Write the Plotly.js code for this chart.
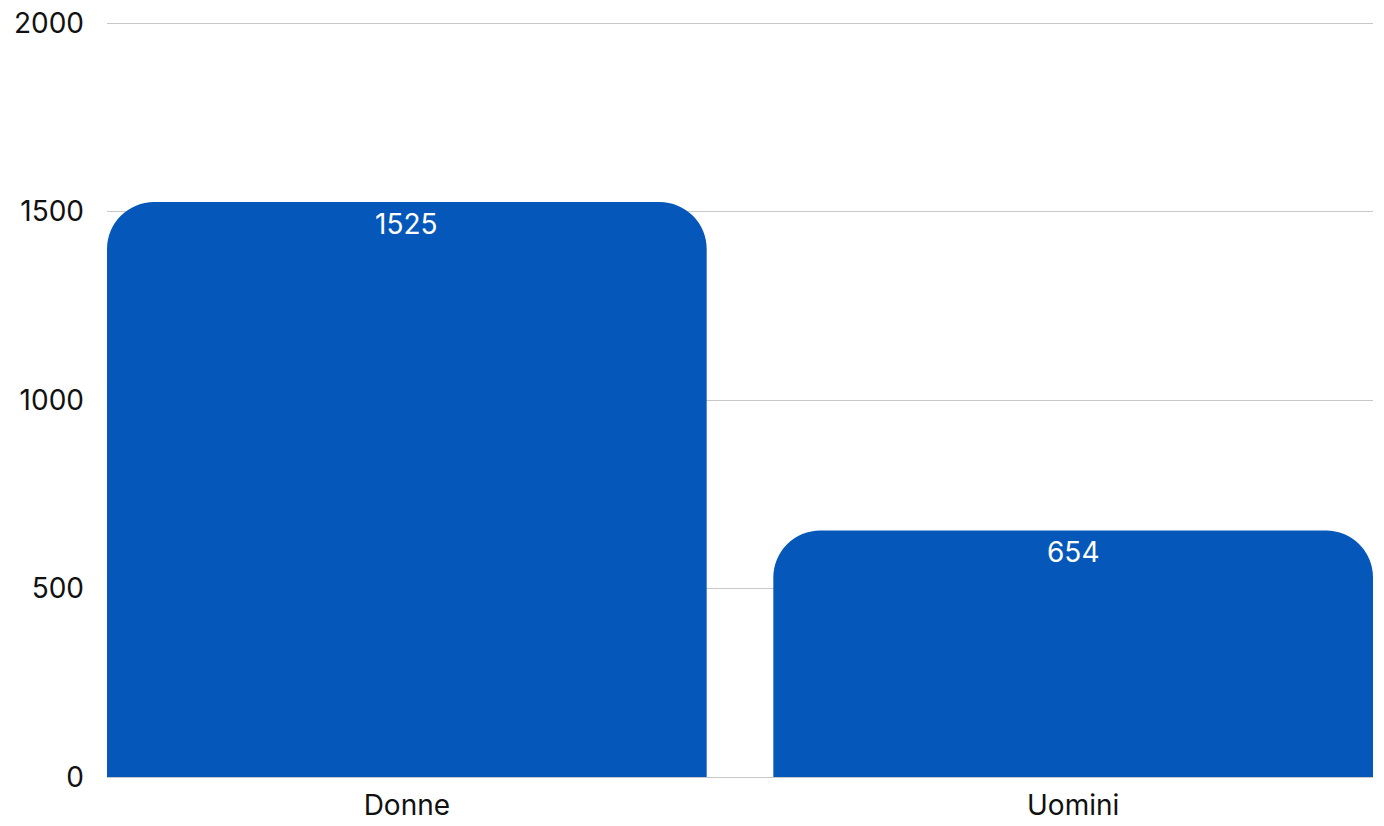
<!DOCTYPE html>
<html>
<head>
<meta charset="utf-8">
<script src="https://cdn.plot.ly/plotly-3.0.1.min.js"></script>
<style>html,body{margin:0;padding:0;background:#fff;}#chart{width:1384px;height:826px;}</style>
</head>
<body>
<div id="chart"></div>
<script>
const categories = ["Donne", "Uomini"];
const values = [1525, 654];
const tickValues = [0, 500, 1000, 1500, 2000];

const FONT = "Inter, sans-serif";

const trace = {
  type: "bar",
  x: categories,
  y: values,
  textposition: "none",
  marker: {color: "#0558b9", cornerradius: 47},
  hoverinfo: "skip"
};

const annotations = categories.map((c, i) => ({
  x: c, y: values[i], xref: "x", yref: "y",
  text: String(values[i]), showarrow: false,
  yanchor: "top", xanchor: "center", yshift: -3,
  font: {family: FONT, size: 28, color: "#ffffff"}
}));

const layout = {
  width: 1384, height: 826,
  margin: {l: 107, r: 11, t: 21, b: 49, pad: 0},
  paper_bgcolor: "#ffffff", plot_bgcolor: "#ffffff",
  bargap: 0.1,
  showlegend: false,
  font: {family: FONT, size: 28, color: "#111111"},
  annotations: annotations,
  xaxis: {
    range: [-0.45, 1.45],
    showgrid: false, showline: false, zeroline: false,
    ticks: "", tickfont: {family: FONT, size: 28, color: "#111111"},
    ticklabelstandoff: 9
  },
  yaxis: {
    range: [0, 2005.3], tickvals: tickValues, ticktext: tickValues.map(String),
    showgrid: true, gridcolor: "#c8c8c8", gridwidth: 1,
    zeroline: true, zerolinecolor: "#c8c8c8", zerolinewidth: 1,
    showline: false, ticks: "", ticklabelstandoff: 22,
    tickfont: {family: FONT, size: 28, color: "#111111"}
  }
};

Plotly.newPlot("chart", [trace], layout, {displayModeBar: false, staticPlot: true});
</script>
</body>
</html>
